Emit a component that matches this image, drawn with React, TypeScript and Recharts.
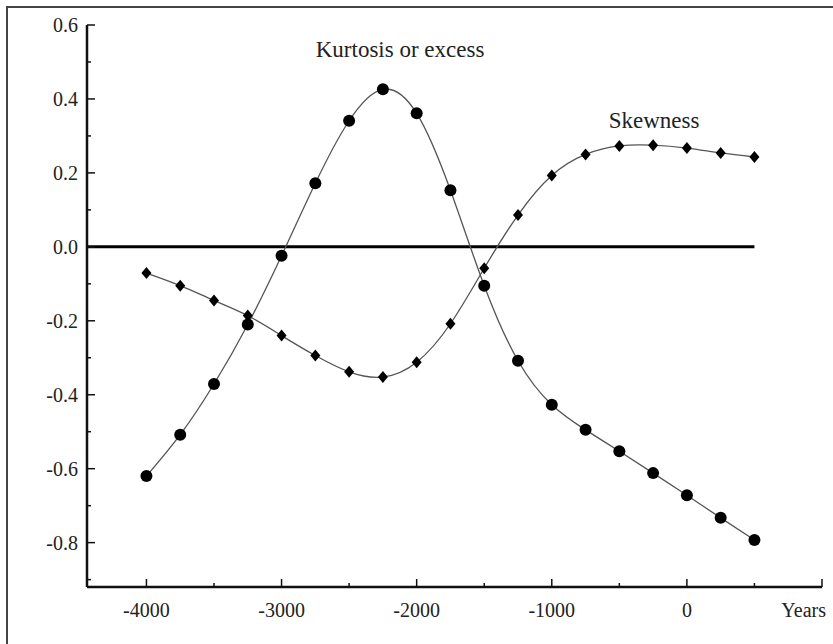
import { LineChart, Line, XAxis, YAxis, ReferenceLine, ReferenceDot } from 'recharts';

// Years on the horizontal axis
const years = [
  -4000, -3750, -3500, -3250, -3000, -2750, -2500, -2250, -2000, -1750,
  -1500, -1250, -1000, -750, -500, -250, 0, 250, 500,
];

// values
const kurtosis = [
  -0.62, -0.508, -0.371, -0.21, -0.024, 0.172, 0.341, 0.426, 0.361, 0.153,
  -0.105, -0.308, -0.427, -0.495, -0.553, -0.612, -0.672, -0.733, -0.793,
];
const skewness = [
  -0.071, -0.105, -0.145, -0.186, -0.24, -0.294, -0.338, -0.352, -0.312, -0.208,
  -0.058, 0.086, 0.193, 0.25, 0.273, 0.275, 0.267, 0.254, 0.243,
];

const xTicks = [-4000, -3500, -3000, -2500, -2000, -1500, -1000, -500, 0, 500, 1000];
const xLabelled = [-4000, -3000, -2000, -1000, 0];
const yTicks = [-0.9, -0.8, -0.7, -0.6, -0.5, -0.4, -0.3, -0.2, -0.1, 0, 0.1, 0.2, 0.3, 0.4, 0.5, 0.6];
const yLabelled = [-0.8, -0.6, -0.4, -0.2, 0, 0.2, 0.4, 0.6];

const X_MIN = -4440;
const X_MAX = 1000;
const Y_MIN = -0.92;
const Y_MAX = 0.6;

const data = years.map((year, i) => ({
  year,
  kurtosis: kurtosis[i],
  skewness: skewness[i],
}));

const FONT = 'Liberation Serif, DejaVu Serif, serif';
const INK = '#111';
const Y_GAP = 9;
const X_GAP = 30;

const textStyle = (size: number) => ({ fontFamily: FONT, fontSize: size, fill: '#222' });

const near = (list: number[], v: number) => list.some((t) => Math.abs(t - v) < 1e-6);

const YTick = (props: any) => {
  const { x, y, payload } = props;
  const v = payload.value as number;
  const major = near(yLabelled, v);
  const axisX = x + Y_GAP;
  return (
    <g>
      <line x1={axisX} x2={axisX + (major ? 8 : 4)} y1={y} y2={y} stroke={INK} strokeWidth={1.5} />
      {major && (
        <text x={axisX - Y_GAP} y={y} dy="0.35em" textAnchor="end" style={textStyle(20)}>
          {v.toFixed(1)}
        </text>
      )}
    </g>
  );
};

const XTick = (props: any) => {
  const { x, y, payload } = props;
  const v = payload.value as number;
  const isEnd = v === X_MAX;
  const major = near(xLabelled, v) || isEnd;
  const axisY = y - X_GAP;
  return (
    <g>
      <line x1={x} x2={x} y1={axisY} y2={axisY - (major ? 8 : 4)} stroke={INK} strokeWidth={1.5} />
      {near(xLabelled, v) && (
        <text x={x} y={y} textAnchor="middle" style={textStyle(20)}>
          {String(v)}
        </text>
      )}
      {isEnd && (
        <text x={x + 4} y={y} textAnchor="end" style={textStyle(20)}>
          Years
        </text>
      )}
    </g>
  );
};

const CircleDot = (props: any) => {
  const { cx, cy, index } = props;
  return <circle key={`k-${index}`} cx={cx} cy={cy} r={6} fill="#000" />;
};

const DiamondDot = (props: any) => {
  const { cx, cy, index } = props;
  return (
    <polygon
      key={`s-${index}`}
      points={`${cx},${cy - 6} ${cx + 5},${cy} ${cx},${cy + 6} ${cx - 5},${cy}`}
      fill="#000"
    />
  );
};

const Annotation = (props: any) => {
  const { viewBox, text } = props;
  const cx = viewBox.x + (viewBox.width ?? 0) / 2;
  const cy = viewBox.y + (viewBox.height ?? 0) / 2;
  return (
    <text x={cx} y={cy} textAnchor="middle" style={textStyle(23)}>
      {text}
    </text>
  );
};

export default function App() {
  return (
    <div
      style={{
        position: 'fixed',
        left: 0,
        top: 0,
        width: 833,
        height: 644,
        overflow: 'hidden',
        background: '#fff',
      }}
    >
      <div
        style={{
          position: 'absolute',
          left: 6,
          top: 6,
          width: 900,
          height: 700,
          border: '2px solid #444',
        }}
      />
      <div style={{ position: 'absolute', left: 0, top: 0 }}>
        <LineChart width={833} height={644} data={data} margin={{ top: 25, right: 11, bottom: 17, left: 27 }}>
          <XAxis
            dataKey="year"
            type="number"
            domain={[X_MIN, X_MAX]}
            ticks={xTicks}
            interval={0}
            height={40}
            tickSize={0}
            tickMargin={X_GAP}
            tickLine={false}
            tick={<XTick />}
            axisLine={{ stroke: INK, strokeWidth: 2.5 }}
            allowDataOverflow
          />
          <YAxis
            type="number"
            domain={[Y_MIN, Y_MAX]}
            ticks={yTicks}
            interval={0}
            width={60}
            tickSize={0}
            tickMargin={Y_GAP}
            tickLine={false}
            tick={<YTick />}
            axisLine={{ stroke: INK, strokeWidth: 2.5 }}
            allowDataOverflow
          />
          <ReferenceLine
            segment={[{ x: X_MIN, y: 0 }, { x: 500, y: 0 }]}
            stroke="#000"
            strokeWidth={3}
          />
          <Line
            dataKey="kurtosis"
            type="natural"
            stroke="#555"
            strokeWidth={1.3}
            dot={CircleDot}
            activeDot={false}
            isAnimationActive={false}
          />
          <Line
            dataKey="skewness"
            type="natural"
            stroke="#555"
            strokeWidth={1.3}
            dot={DiamondDot}
            activeDot={false}
            isAnimationActive={false}
          />
          <ReferenceDot
            x={-2123}
            y={0.513}
            r={0}
            fill="none"
            stroke="none"
            label={<Annotation text="Kurtosis or excess" />}
          />
          <ReferenceDot
            x={-243}
            y={0.321}
            r={0}
            fill="none"
            stroke="none"
            label={<Annotation text="Skewness" />}
          />
        </LineChart>
      </div>
    </div>
  );
}
